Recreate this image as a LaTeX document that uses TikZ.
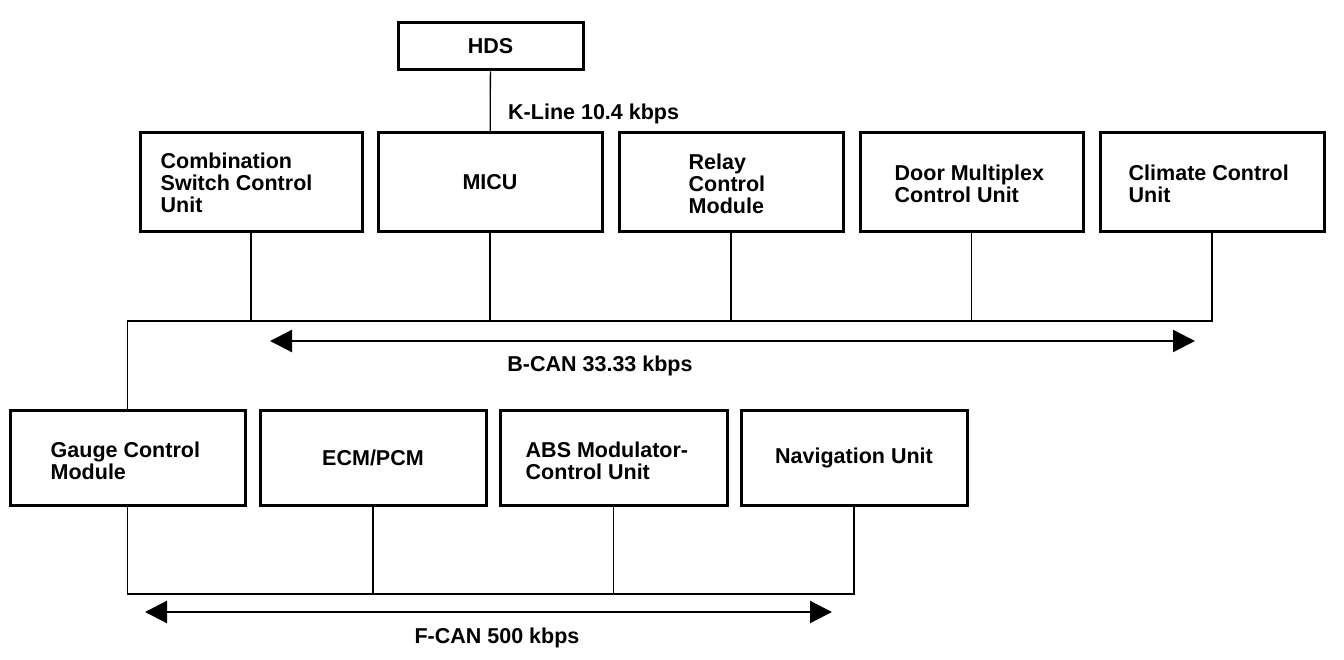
\documentclass[tikz,border=0pt]{standalone}
\usepackage{fontspec}
\setmainfont{Liberation Sans}
\usetikzlibrary{arrows.meta}

\tikzset{
  unit/.style={draw, line width=3pt, minimum height=99pt, inner sep=0pt,
    font=\bfseries\fontsize{21.5}{22}\selectfont},
  txt/.style={anchor=west, align=left, inner sep=0pt,
    font=\bfseries\fontsize{21.5}{22}\selectfont},
  wire/.style={line width=1.3pt},
  busarrow/.style={line width=2.2pt, {Triangle[length=22pt, width=22pt]}-{Triangle[length=22pt, width=22pt]}}
}

\begin{document}
\begin{tikzpicture}[x=1pt, y=-1pt]
  \useasboundingbox (0,0) rectangle (1344,660);
  % Tester
  \node[unit, minimum width=185pt, minimum height=47pt] (hds) at (490.5,46.5) {HDS};
  % Top row (B-CAN)
  \node[unit, minimum width=222pt] (csu) at (251,182.5) {};
  \node[txt] (csuT) at ([xshift=22pt]csu.west) {Combination\\Switch Control\\Unit};
  \node[unit, minimum width=224pt] (micu) at (490,182.5) {MICU};
  \node[unit, minimum width=224pt] (rcm) at (731,182.5) {};
  \node[txt] (rcmT) at ([xshift=71pt, yshift=-1.5pt]rcm.west) {Relay\\Control\\Module};
  \node[unit, minimum width=223pt] (dmcu) at (971.5,182.5) {};
  \node[txt] (dmcuT) at ([xshift=36pt, yshift=-1.5pt]dmcu.west) {Door Multiplex\\Control Unit};
  \node[unit, minimum width=224pt] (ccu) at (1212,182.5) {};
  \node[txt] (ccuT) at ([xshift=30pt, yshift=-1.5pt]ccu.west) {Climate Control\\Unit};
  % Bottom row (F-CAN)
  \node[unit, minimum width=235pt, minimum height=95pt] (gcm) at (127.5,457.5) {};
  \node[txt] (gcmT) at ([xshift=42pt, yshift=-3pt]gcm.west) {Gauge Control\\Module};
  \node[unit, minimum width=226pt, minimum height=95pt] (ecm) at (373,457.5) {ECM/PCM};
  \node[unit, minimum width=227pt, minimum height=95pt] (abs) at (613.5,457.5) {};
  \node[txt] (absT) at ([xshift=27pt, yshift=-3pt]abs.west) {ABS Modulator-\\Control Unit};
  \node[unit, minimum width=226pt, minimum height=95pt] (nav) at (854,457.5) {Navigation Unit};

  % K-Line
  \draw[wire] (hds) -- (micu);
  \node[txt] (kline) at (508,114) {K-Line 10.4 kbps};

  % B-CAN bus
  \coordinate (bbus) at (127.5,321);
  \draw[wire] (ccu.south) |- (bbus) -- (gcm.north);
  \foreach \u in {csu, micu, rcm, dmcu}
    \draw[wire] (\u.south) -- (\u.south |- bbus);
  \coordinate (bcanL) at (270,341);
  \coordinate (bcanR) at (1195,341);
  \draw[busarrow] (bcanL) -- (bcanR);
  \node[txt, anchor=center] (bcan) at (600,366) {B-CAN 33.33 kbps};

  % F-CAN bus
  \coordinate (fbus) at (0,594);
  \draw[wire] (gcm.south) |- (nav.south |- fbus) -- (nav.south);
  \foreach \u in {ecm, abs}
    \draw[wire] (\u.south) -- (\u.south |- fbus);
  \coordinate (fcanL) at (145,612);
  \coordinate (fcanR) at (832,612);
  \draw[busarrow] (fcanL) -- (fcanR);
  \node[txt, anchor=center] (fcan) at (497,638) {F-CAN 500 kbps};
\end{tikzpicture}
\end{document}
